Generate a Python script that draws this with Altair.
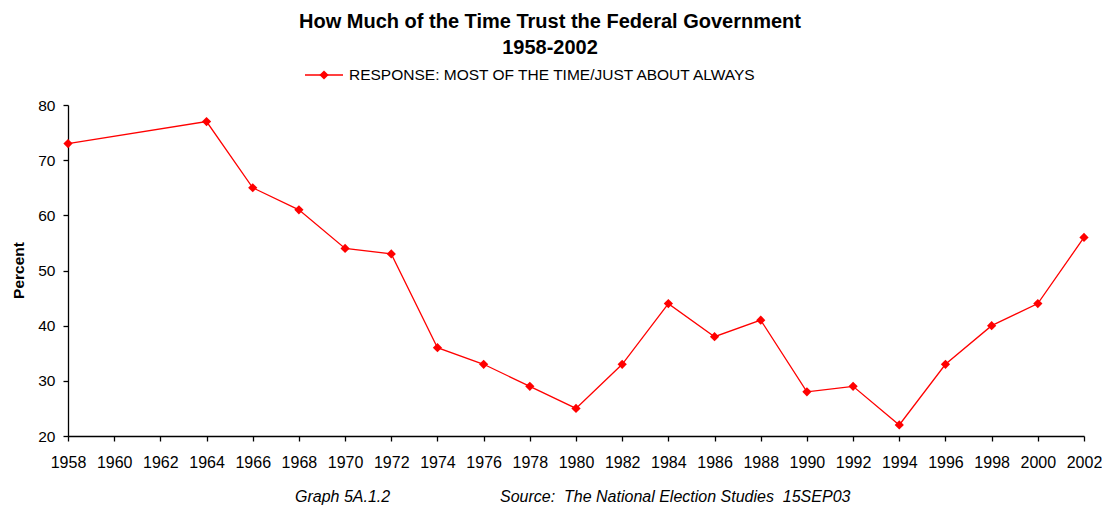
import altair as alt
import pandas as pd

years = [1958, 1964, 1966, 1968, 1970, 1972, 1974, 1976, 1978, 1980, 1982,
         1984, 1986, 1988, 1990, 1992, 1994, 1996, 1998, 2000, 2002]
percent = [73, 77, 65, 61, 54, 53, 36, 33, 29, 25, 33,
           44, 38, 41, 28, 29, 22, 33, 40, 44, 56]
x_ticks = list(range(1958, 2003, 2))
y_ticks = [20, 30, 40, 50, 60, 70, 80]

title_line1 = "How Much of the Time Trust the Federal Government"
title_line2 = "1958-2002"
legend_label = "RESPONSE: MOST OF THE TIME/JUST ABOUT ALWAYS"
footer_left = "Graph 5A.1.2"
footer_right = "Source:\u00a0 The National Election Studies\u00a0 15SEP03"

df = pd.DataFrame({"year": years, "percent": percent})
FONT = "Liberation Sans"
RED = "#FF0000"

x = alt.X("year:Q", scale=alt.Scale(domain=[1958, 2002], nice=False, zero=False),
          axis=alt.Axis(values=x_ticks, format="d", title=None, grid=False,
                        domainColor="black", tickColor="black", tickSize=5,
                        labelPadding=13, labelFont=FONT, labelFontSize=16,
                        labelColor="black", labelFlush=False, domainWidth=1.3, tickWidth=1.3))
y = alt.Y("percent:Q", scale=alt.Scale(domain=[20, 80], nice=False, zero=False),
          axis=alt.Axis(values=y_ticks, title="Percent", grid=False,
                        domainColor="black", tickColor="black", tickSize=5,
                        labelPadding=8, labelFont=FONT, labelFontSize=15.5,
                        labelColor="black", titleFont=FONT, titleFontSize=15.5,
                        titleFontWeight="bold", titleColor="black",
                        titleX=-50, titleY=165, titleAngle=270,
                        titleAlign="center", titleBaseline="middle",
                        domainWidth=1.3, tickWidth=1.3))

base = alt.Chart(df)
line = base.mark_line(color=RED, strokeWidth=1.3).encode(x=x, y=y)
pts = base.mark_point(shape="diamond", filled=True, color=RED, size=85, opacity=1).encode(x=x, y=y)

def txt(s, xp, yp, size=13, weight="normal", style="normal", align="left"):
    return alt.Chart(pd.DataFrame({"t": [s]})).mark_text(
        font=FONT, fontSize=size, fontWeight=weight, fontStyle=style,
        align=align, baseline="middle", color="black"
    ).encode(text="t:N", x=alt.value(xp), y=alt.value(yp))

t1 = txt(title_line1, 482, -83, size=20, weight="bold", align="center")
t2 = txt(title_line2, 482, -57, size=20, weight="bold", align="center")
leg_line = alt.Chart(pd.DataFrame({"a": [0]})).mark_rule(color=RED, strokeWidth=1.3).encode(
    x=alt.value(237), x2=alt.value(275), y=alt.value(-30))
leg_pt = alt.Chart(pd.DataFrame({"a": [0]})).mark_point(
    shape="diamond", filled=True, color=RED, size=85, opacity=1).encode(
    x=alt.value(256), y=alt.value(-30))
leg_txt = txt(legend_label, 281, -30, size=15.5)
f1 = txt(footer_left, 227, 392, size=16, style="italic")
f2 = txt(footer_right, 432, 392, size=16, style="italic")

chart = alt.layer(line, pts, t1, t2, leg_line, leg_pt, leg_txt, f1, f2).properties(
    width=1016, height=331,
    autosize=alt.AutoSizeParams(type="none"),
    padding={"left": 60, "top": 97, "right": 18, "bottom": 72},
    background="white",
).configure_view(stroke=None)

chart.save("out.html", embed_options={"renderer": "svg", "actions": False})
